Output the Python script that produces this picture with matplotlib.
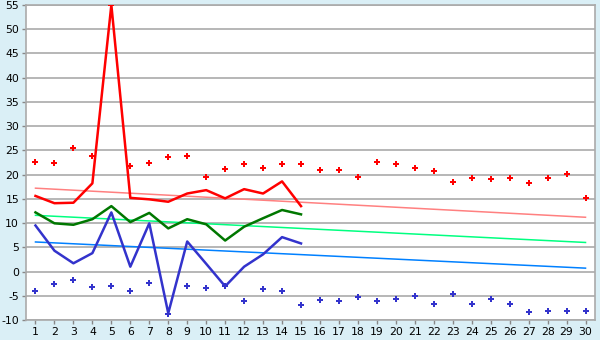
import matplotlib
matplotlib.use("Agg")
import matplotlib.pyplot as plt
import numpy as np

plt.rcParams["axes.unicode_minus"] = False

days = list(range(1, 31))
red_points = [22.7, 22.5, 25.4, 23.8, 55.0, 21.8, 22.5, 23.6, 23.8, 19.5,
              21.1, 22.1, 21.3, 22.1, 22.1, 20.9, 20.9, 19.6, 22.7, 22.1,
              21.3, 20.7, 18.4, 19.2, 19.0, 19.2, 18.2, 19.2, 20.1, 15.1]
blue_points = [-4.1, -2.6, -1.8, -3.1, -2.9, -4.1, -2.4, -8.7, -2.9, -3.3,
               -3.0, -6.1, -3.7, -4.1, -7.0, -5.9, -6.1, -5.3, -6.1, -5.7,
               -5.1, -6.6, -4.7, -6.8, -5.7, -6.8, -8.4, -8.2, -8.2, -8.2]
line_days = list(range(1, 16))
red_line = [15.6, 14.1, 14.2, 18.2, 55.0, 15.2, 14.9, 14.4, 16.1, 16.8,
            15.1, 17.0, 16.1, 18.6, 13.5]
green_line = [12.2, 9.95, 9.65, 10.8, 13.5, 10.2, 12.1, 8.9, 10.8, 9.75,
              6.4, 9.25, 11.0, 12.7, 11.8]
blue_line = [9.5, 4.3, 1.7, 3.8, 12.2, 1.0, 9.95, -8.6, 6.2, 1.6,
             -3.05, 1.0, 3.55, 7.1, 5.8]
trend_ends = {"red": (17.2, 11.2), "green": (11.6, 6.0), "blue": (6.1, 0.7)}
y_ticks = list(range(-10, 60, 5))

bg = "#DAEFF6"
fig = plt.figure(figsize=(6, 3.4), dpi=100, facecolor=bg)
ax = fig.add_axes([26/600, 1-320/340, (595-26)/600, (320-5)/340])
ax.set_facecolor("white")

for y in y_ticks:
    ax.axhline(y, color="#AAAAAA", lw=1.2, zorder=0)

ax.plot([1, 30], trend_ends["red"], color="#FF8080", lw=1.1, zorder=2)
ax.plot([1, 30], trend_ends["green"], color="#00FF80", lw=1.1, zorder=2)
ax.plot([1, 30], trend_ends["blue"], color="#0080FF", lw=1.1, zorder=2)

ax.plot(line_days, red_line, color="#FF0000", lw=1.8, zorder=3)
ax.plot(line_days, green_line, color="#007700", lw=1.8, zorder=3)
ax.plot(line_days, blue_line, color="#3333CC", lw=1.8, zorder=3)

ax.plot(days, red_points, ls="none", marker="P", ms=4.0, color="#FF0000",
        markeredgewidth=0, zorder=4)
ax.plot(days, blue_points, ls="none", marker="P", ms=4.0, color="#3333CC",
        markeredgewidth=0, zorder=4)

ax.set_xlim(0.5, 30.5)
ax.set_ylim(-10, 55)
ax.set_xticks(days)
ax.set_yticks(y_ticks)
ax.tick_params(axis="both", labelsize=7.8, color="#888888", length=3,
               width=1, pad=2)
for s in ax.spines.values():
    s.set_color("#AAAAAA")
    s.set_linewidth(1.2)

fig.savefig("out.png", dpi=100, facecolor=bg)
